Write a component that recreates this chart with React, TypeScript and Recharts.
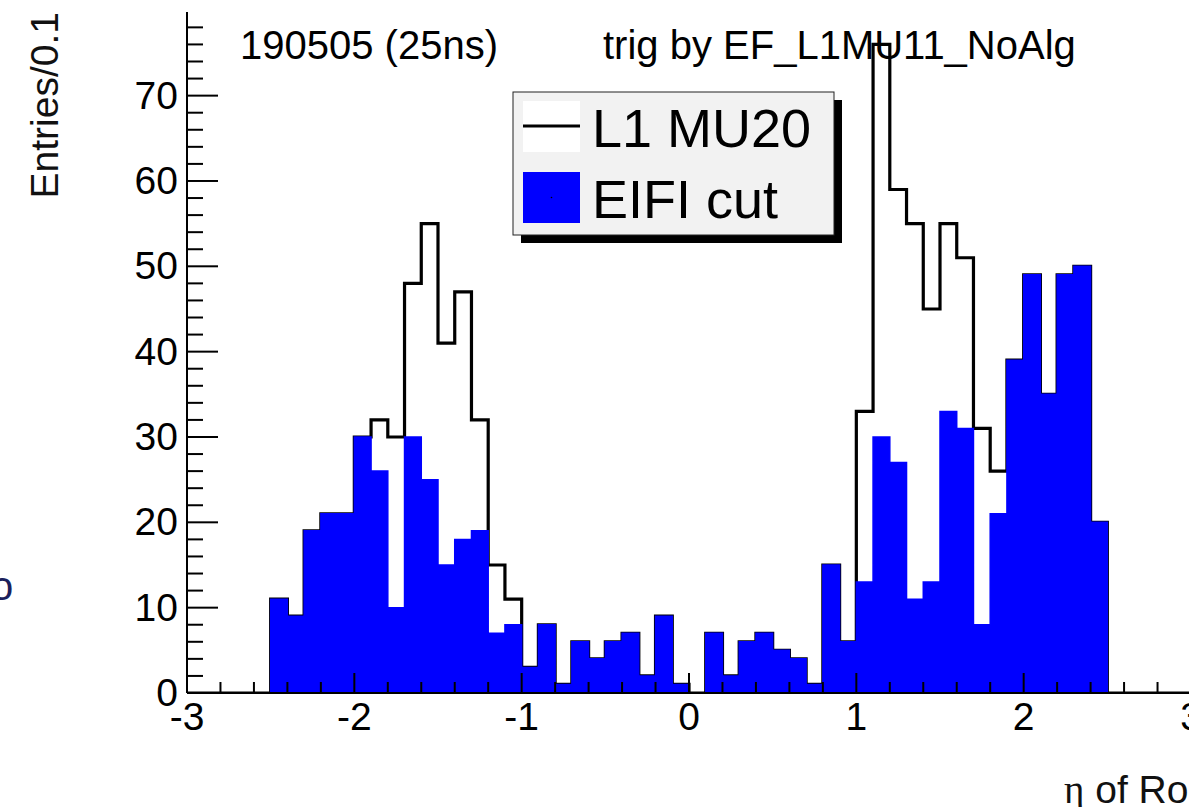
import { ComposedChart, Area, XAxis, YAxis } from "recharts";

// lower bin edges (0.1 wide) plus the upper edge of the last bin
const BIN_EDGES = [
  -3.0, -2.9, -2.8, -2.7, -2.6, -2.5, -2.4, -2.3, -2.2, -2.1,
  -2.0, -1.9, -1.8, -1.7, -1.6, -1.5, -1.4, -1.3, -1.2, -1.1,
  -1.0, -0.9, -0.8, -0.7, -0.6, -0.5, -0.4, -0.3, -0.2, -0.1,
  0.0, 0.1, 0.2, 0.3, 0.4, 0.5, 0.6, 0.7, 0.8, 0.9,
  1.0, 1.1, 1.2, 1.3, 1.4, 1.5, 1.6, 1.7, 1.8, 1.9,
  2.0, 2.1, 2.2, 2.3, 2.4, 2.5, 2.6, 2.7, 2.8, 2.9,
  3.0,
];

const L1_MU20 = [
  0, 0, 0, 0, 0, 11, 9, 19, 21, 21,
  30, 32, 30, 48, 55, 41, 47, 32, 15, 11,
  3, 8, 1, 6, 4, 6, 7, 2, 9, 1,
  0, 7, 2, 6, 7, 5, 4, 1, 15, 6,
  33, 76, 59, 55, 45, 55, 51, 31, 26, 39,
  49, 35, 49, 50, 20, 0, 0, 0, 0, 0,
];

const EIFI_CUT = [
  0, 0, 0, 0, 0, 11, 9, 19, 21, 21,
  30, 26, 10, 30, 25, 15, 18, 19, 7, 8,
  3, 8, 1, 6, 4, 6, 7, 2, 9, 1,
  0, 7, 2, 6, 7, 5, 4, 1, 15, 6,
  13, 30, 27, 11, 13, 33, 31, 8, 21, 39,
  49, 35, 49, 50, 20, 0, 0, 0, 0, 0,
];

const X_LABELS = [-3, -2, -1, 0, 1, 2, 3];
const Y_LABELS = [0, 10, 20, 30, 40, 50, 60, 70];
const Y_MAX = 79.8;

const SERIES = [
  { key: "l1", name: "L1 MU20", color: "#000000" },
  { key: "eifi", name: "EIFI cut", color: "#0000ff" },
];

const FONT = "'Liberation Sans', Arial, Helvetica, sans-serif";
const W = 1200;
const H = 807;
const MARGIN = { top: 12, right: 9, bottom: 0, left: 0 };

// histogram as step points: each bin value holds until the next edge
const data = BIN_EDGES.map((eta, i) => {
  const j = Math.min(i, L1_MU20.length - 1);
  return { eta, l1: L1_MU20[j], eifi: EIFI_CUT[j] };
});

// ROOT-style divisions: 5 sub ticks per x unit, 5 per 10 entries on y
const X_TICKS = Array.from({ length: 31 }, (_, i) => Math.round((-3 + i * 0.2) * 10) / 10);
const Y_TICKS = Array.from({ length: 40 }, (_, i) => i * 2);

const isInt = (v: number) => Math.abs(v - Math.round(v)) < 1e-6;
const isMajorY = (v: number) => v % 10 === 0;

function BottomTick({ x, y, payload }: any) {
  const v = payload.value;
  const major = isInt(v);
  return (
    <g>
      <line x1={x} x2={x} y1={y} y2={y - (major ? 20 : 11)} stroke="#000" strokeWidth={2} />
      {major && X_LABELS.includes(Math.round(v)) && (
        <text x={x} y={y + 37} textAnchor="middle" fontSize={39} fontFamily={FONT} fill="#000">
          {Math.round(v)}
        </text>
      )}
    </g>
  );
}

function TopTick({ x, y, payload }: any) {
  const major = isInt(payload.value);
  return <line x1={x} x2={x} y1={y} y2={y + (major ? 20 : 11)} stroke="#000" strokeWidth={2} />;
}

function LeftTick({ x, y, payload }: any) {
  const v = payload.value;
  const major = isMajorY(v);
  return (
    <g>
      <line x1={x} x2={x + (major ? 31 : 16)} y1={y} y2={y} stroke="#000" strokeWidth={2} />
      {major && Y_LABELS.includes(v) && (
        <text x={x - 9} y={y + 13} textAnchor="end" fontSize={39} fontFamily={FONT} fill="#000">
          {v}
        </text>
      )}
    </g>
  );
}

function RightTick({ x, y, payload }: any) {
  const major = isMajorY(payload.value);
  return <line x1={x} x2={x - (major ? 31 : 16)} y1={y} y2={y} stroke="#000" strokeWidth={2} />;
}

// shared axis geometry; `visible` switches the frame lines and ticks on
function axes(visible: boolean) {
  const line = visible ? { stroke: "#000", strokeWidth: 2 } : false;
  return [
    <XAxis
      key="b"
      dataKey="eta"
      type="number"
      domain={[-3, 3]}
      allowDataOverflow
      ticks={X_TICKS}
      interval={0}
      height={114}
      tickSize={0}
      tickMargin={0}
      tickLine={false}
      axisLine={line}
      tick={visible ? <BottomTick /> : false}
    />,
    <XAxis
      key="t"
      xAxisId="top"
      orientation="top"
      type="number"
      domain={[-3, 3]}
      allowDataOverflow
      ticks={X_TICKS}
      interval={0}
      height={0}
      tickSize={0}
      tickMargin={0}
      tickLine={false}
      axisLine={line}
      tick={visible ? <TopTick /> : false}
    />,
    <YAxis
      key="l"
      type="number"
      domain={[0, Y_MAX]}
      allowDataOverflow
      ticks={Y_TICKS}
      interval={0}
      width={187}
      tickSize={0}
      tickMargin={0}
      tickLine={false}
      axisLine={line}
      tick={visible ? <LeftTick /> : false}
    />,
    <YAxis
      key="r"
      yAxisId="r"
      orientation="right"
      type="number"
      domain={[0, Y_MAX]}
      allowDataOverflow
      ticks={Y_TICKS}
      interval={0}
      width={0}
      tickSize={0}
      tickMargin={0}
      tickLine={false}
      axisLine={line}
      tick={visible ? <RightTick /> : false}
    />,
  ];
}

function LegendBox() {
  const bx = 513;
  const by = 92;
  const w = 321;
  const h = 143;
  return (
    <g>
      <rect x={bx + 8} y={by + 8} width={w} height={h} fill="#000" />
      <rect x={bx} y={by} width={w} height={h} fill="#f2f2f2" stroke="#222" strokeWidth={1} />
      {SERIES.map((s, i) => {
        const top = by + 9 + i * 71;
        return (
          <g key={s.key}>
            {s.key === "l1" ? (
              <>
                <rect x={523} y={top} width={57} height={51} fill="#fff" />
                <line x1={523} x2={580} y1={top + 25} y2={top + 25} stroke={s.color} strokeWidth={3} />
              </>
            ) : (
              <>
                <rect x={523} y={top} width={57} height={51} fill={s.color} />
                <circle cx={551.5} cy={top + 25.5} r={0.8} fill="#000" />
              </>
            )}
            <text x={592} y={top + 46} fontSize={54} fontFamily={FONT} fill="#000">
              {s.name}
            </text>
          </g>
        );
      })}
    </g>
  );
}

const layer = { position: "absolute" as const, left: 0, top: 0 };

export default function App() {
  return (
    <div
      style={{
        position: "fixed",
        left: 0,
        top: 0,
        width: 1189,
        height: 807,
        overflow: "hidden",
        background: "#fff",
      }}
    >
      <div style={layer}>
        <ComposedChart width={W} height={H} data={data} margin={MARGIN}>
          <Area
            type="stepAfter"
            dataKey="l1"
            name="L1 MU20"
            stroke="#000"
            strokeWidth={3.2}
            fill="none"
            dot={false}
            activeDot={false}
            isAnimationActive={false}
          />
          <Area
            type="stepAfter"
            dataKey="eifi"
            name="EIFI cut"
            stroke="#0000ff"
            strokeWidth={1.5}
            fill="#0000ff"
            fillOpacity={1}
            dot={false}
            activeDot={false}
            isAnimationActive={false}
          />
          {axes(false)}
        </ComposedChart>
      </div>
      {/* frame and inward ticks on top of the filled histogram */}
      <div style={layer}>
        <ComposedChart width={W} height={H} data={data} margin={MARGIN}>
          {axes(true)}
        </ComposedChart>
      </div>
      <svg width={W} height={H} style={{ ...layer, pointerEvents: "none" }}>
        <text x={240} y={59} fontSize={40} fontFamily={FONT} fill="#000">
          190505 (25ns)
        </text>
        <text x={603} y={59} fontSize={40} fontFamily={FONT} fill="#000">
          trig by EF_L1MU11_NoAlg
        </text>
        <LegendBox />
        <text
          transform="translate(58, 12) rotate(-90)"
          textAnchor="end"
          fontSize={39}
          fontFamily={FONT}
          fill="#111"
        >
          Entries/0.1
        </text>
        <text x={1064} y={803} fontSize={39} fontFamily={FONT} fill="#111">
          <tspan fontFamily="'Liberation Serif', 'DejaVu Serif', serif">η</tspan> of RoI
        </text>
        <text x={-9} y={600} fontSize={40} fontFamily={FONT} fill="#1b1f5c">
          o
        </text>
      </svg>
    </div>
  );
}
